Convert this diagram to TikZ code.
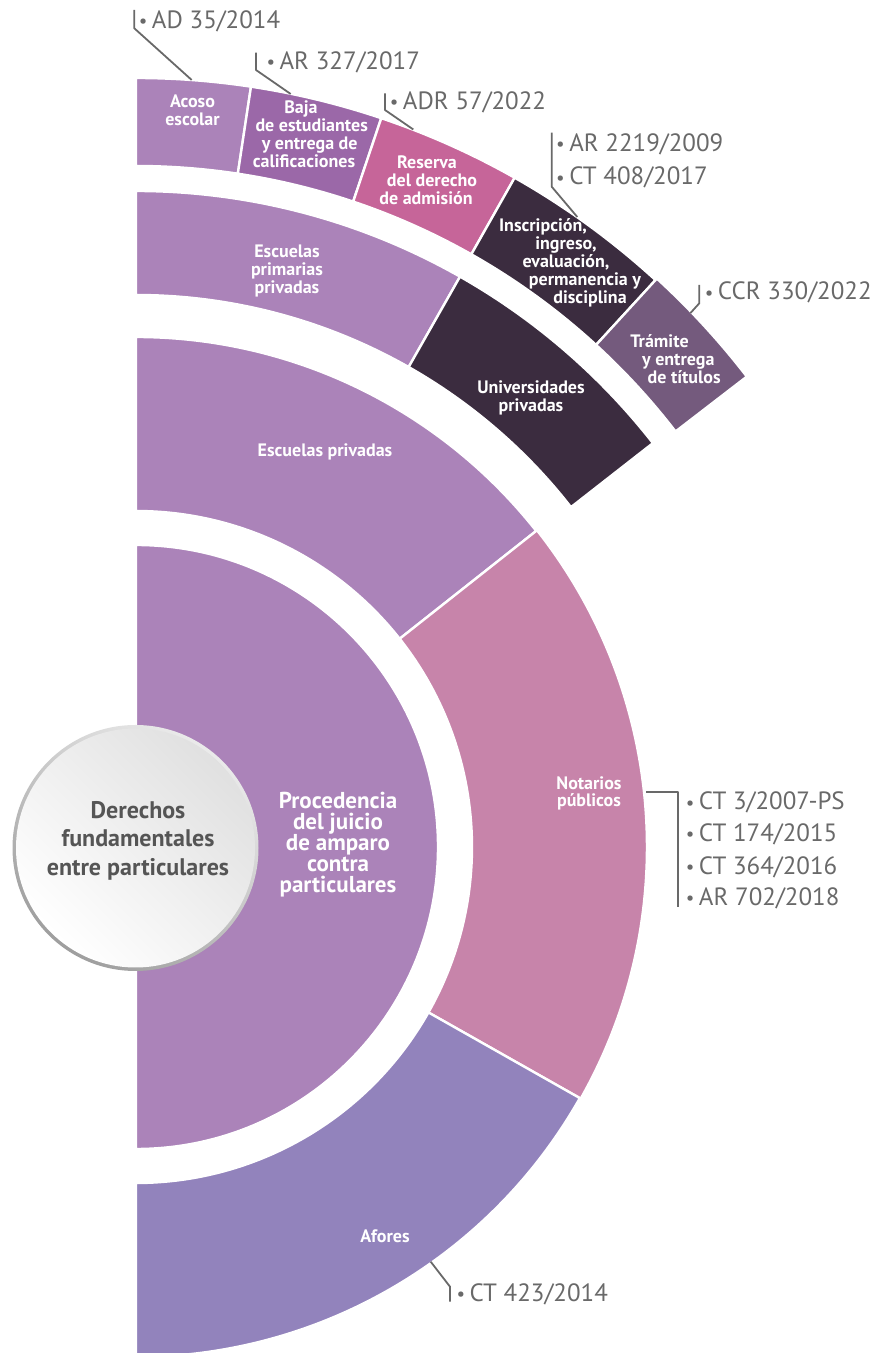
\documentclass[tikz,border=0pt]{standalone}
\usepackage{fontspec}
\setmainfont{PT Sans}
\definecolor{cLila}{HTML}{AB83B9}
\definecolor{cNot}{HTML}{C784AA}
\definecolor{cAf}{HTML}{9283BC}
\definecolor{cDark}{HTML}{3B2C3F}
\definecolor{cBaja}{HTML}{9B68A8}
\definecolor{cRes}{HTML}{C66599}
\definecolor{cTram}{HTML}{745A7D}
\definecolor{cTxt}{HTML}{555555}
\definecolor{cRef}{HTML}{696969}
\newcommand\ringsec[5]{\filldraw[seg,fill=#1] (#2:#4pt) arc[start angle=#2,end angle=#3,radius=#4pt] -- (#3:#5pt) arc[start angle=#3,end angle=#2,radius=#5pt] -- cycle;}
\newcommand\bul{{\fontsize{19pt}{19pt}\selectfont\raisebox{0.7pt}{•}}\hspace{4.5pt}}
\begin{document}
\lineskiplimit=-20pt\relax
\begin{tikzpicture}[x=1pt,y=1pt,
 seg/.style={draw=white,line width=2.4pt,line join=round},
 lbl/.style={font=\fontsize{18pt}{18pt}\selectfont\bfseries,text=white,align=center,inner sep=0pt},
 ref/.style={font=\fontsize{25pt}{25pt}\selectfont,text=cRef,anchor=base west,inner sep=0pt},
 conn/.style={draw=cRef,line width=1.8pt,line join=round}]
\useasboundingbox (0,0) rectangle (881,1353);
\begin{scope}[shift={(136,506)}]
 % ring 1
 \filldraw[seg,fill=cLila] (-90:302pt) arc[start angle=-90,end angle=90,radius=302pt] -- cycle;
 % ring 2
 \ringsec{cLila}{38.3}{90}{336}{510}
 \ringsec{cNot}{-29.5}{38.3}{336}{511}
 \ringsec{cAf}{-90}{-29.5}{336}{510}
 % ring 3
 \ringsec{cLila}{60.4}{90}{552}{656}
 \ringsec{cDark}{38}{60.4}{552}{656}
 % ring 4
 \ringsec{cLila}{81.4}{90}{681}{769}
 \ringsec{cBaja}{71.4}{81.4}{681}{769}
 \ringsec{cRes}{60.5}{71.4}{681}{769}
 \ringsec{cDark}{47.5}{60.5}{681}{769}
 \ringsec{cTram}{37.6}{47.5}{681}{771}
 % centre circle
 \shade[top color=white!92!black,bottom color=white!62!black,shading angle=-35] (-0.5,-1) circle[radius=123pt];
 \shade[top color=white!88!black,bottom color=white,shading angle=-45] (-0.5,-1) circle[radius=119.5pt];
\end{scope}

% segment labels
\node[lbl] (nAcoso) at (192.5,1242.7) {Acoso\\escolar};
\node[lbl] (nBaja) at (307,1219) {Baja\hspace*{12pt}\\\hspace*{9.4pt}de estudiantes\\\hspace*{5.4pt}y entrega de\\calificaciones\hspace*{6pt}};
\node[lbl] (nRes) at (428,1172.4) {Reserva\hspace*{2pt}\\\hspace*{8pt}del derecho\\de admisión\hspace*{4pt}};
\node[lbl] (nIns) at (566,1090.4) {Inscripción,\hspace*{46pt}\\ingreso,\hspace*{32pt}\\evaluación,\\\hspace*{38pt}permanencia y\\\hspace*{48pt}disciplina};
\node[lbl] (nTram) at (674,994) {Trámite\hspace*{29pt}\\\hspace*{8.6pt}y entrega\\\hspace*{20.4pt}de títulos};
\node[lbl] (nEPP) at (287,1082) {Escuelas\\primarias\\privadas};
\node[lbl] (nUni) at (531,955.4) {Universidades\\privadas};
\node[lbl,anchor=base] (nEP) at (325,896) {Escuelas privadas};
\node[lbl,font=\fontsize{18pt}{16.7pt}\selectfont\bfseries] (nNot) at (589,559.7) {Notarios\\públicos};
\node[lbl,anchor=base] (nAf) at (385,110.3) {Afores};
\node[lbl,font=\fontsize{23pt}{21.1pt}\selectfont\bfseries] (nProc) at (338,508.1) {Procedencia\\del juicio\\de amparo\\contra\\particulares};
\node[lbl,font=\fontsize{24pt}{28.5pt}\selectfont\bfseries,text=cTxt] (nDer) at (138,512.5) {Derechos\\fundamentales\\entre particulares};

% references
\node[ref] (rAD) at (138.7,1324.7) {\bul AD 35/2014};
\node[ref] (rAR) at (266.3,1283.7) {\bul AR 327/2017};
\node[ref] (rADR) at (389.7,1243.7) {\bul ADR 57/2022};
\node[ref] (rARb) at (556,1201.3) {\bul AR 2219/2009};
\node[ref] (rCTa) at (556,1168) {\bul CT 408/2017};
\node[ref] (rCCR) at (704.7,1053) {\bul CCR 330/2022};
\node[ref] (rN1) at (685.7,543) {\bul CT 3/2007-PS};
\node[ref] (rN2) at (685.7,511.3) {\bul CT 174/2015};
\node[ref] (rN3) at (685.7,478.7) {\bul CT 364/2016};
\node[ref] (rN4) at (685.7,447.3) {\bul AR 702/2018};
\node[ref] (rAf) at (456.3,51.3) {\bul CT 423/2014};

% connectors
\coordinate (eAD) at (191.7,1273);   \coordinate (kAD) at (134.3,1324.7); \coordinate (tAD) at (134.3,1343);
\coordinate (eAR) at (290.7,1259);   \coordinate (kAR) at (256,1283);     \coordinate (tAR) at (256,1300.3);
\coordinate (eADR) at (413.3,1223.5);\coordinate (kADR) at (385,1243);    \coordinate (tADR) at (385,1259.7);
\coordinate (eIns) at (577.3,1136);  \coordinate (kIns) at (551.7,1166.3);\coordinate (tIns) at (551.7,1220.3);
\coordinate (eCCR) at (690.5,1040);  \coordinate (kCCR) at (699.3,1049.7);\coordinate (tCCR) at (699.3,1068);
\coordinate (eNot) at (646,560.7);   \coordinate (kNot) at (678.3,560.7); \coordinate (tNot) at (678.3,446.3);
\coordinate (eAf) at (430.7,91.3);   \coordinate (kAf) at (450,66.3);     \coordinate (tAf) at (450,51.3);
\draw[conn] (eAD) -- (kAD) -- (tAD);
\draw[conn] (eAR) -- (kAR) -- (tAR);
\draw[conn] (eADR) -- (kADR) -- (tADR);
\draw[conn] (eIns) -- (kIns) -- (tIns);
\draw[conn] (eCCR) -- (kCCR) -- (tCCR);
\draw[conn] (eNot) -- (kNot) -- (tNot);
\draw[conn] (eAf) -- (kAf) -- (tAf);
\end{tikzpicture}
\end{document}
